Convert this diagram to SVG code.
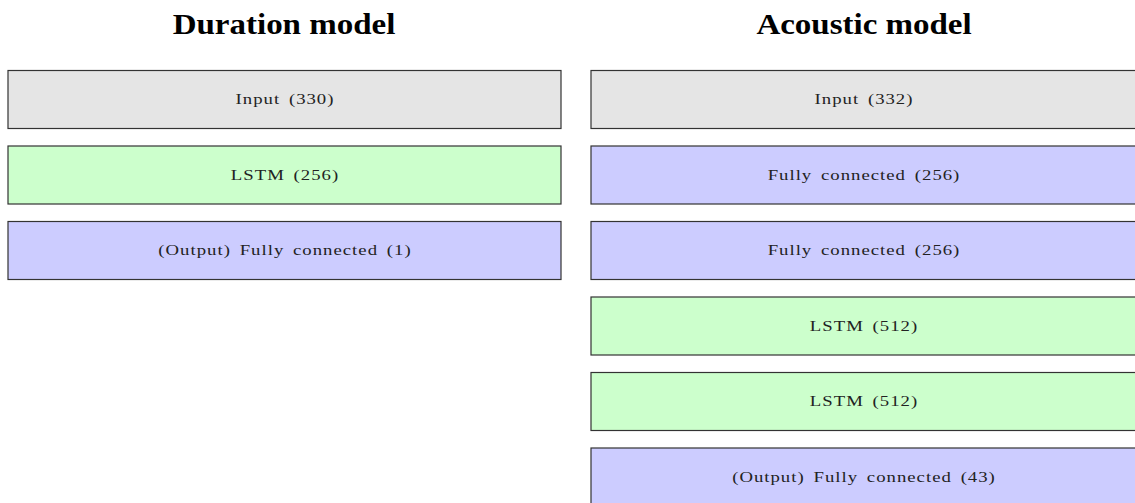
<svg xmlns="http://www.w3.org/2000/svg" width="1135" height="503" viewBox="0 0 1135 503">
  <style>
    .title { font-family: "Liberation Serif", "DejaVu Serif", serif; font-weight: bold; font-size: 30px; fill: #000; text-anchor: middle; }
    .layer { stroke: #333; stroke-width: 1.2; }
    .lbl { font-family: "Liberation Serif", "DejaVu Serif", serif; font-size: 15px; letter-spacing: 0.8px; word-spacing: 2.5px; fill: #222; text-anchor: middle; }
    .input { fill: #e5e5e5; }
    .lstm { fill: #ccffcc; }
    .fc { fill: #ccccff; }
  </style>
  <rect width="1135" height="503" fill="#fff"/>

  <!-- headings, widened to a roman-extended look -->
  <text class="title" transform="translate(284 33.5) scale(1.1 1)">Duration model</text>
  <text class="title" transform="translate(864 33.5) scale(1.1 1)">Acoustic model</text>

  <!-- Duration model stack -->
  <g id="dur-input">
    <rect class="layer input" x="8" y="70.5" width="553" height="58"/>
    <text class="lbl" transform="translate(285 104) scale(1.25 1)">Input (330)</text>
  </g>
  <g id="dur-lstm">
    <rect class="layer lstm" x="8" y="146" width="553" height="58"/>
    <text class="lbl" transform="translate(285 179.5) scale(1.25 1)">LSTM (256)</text>
  </g>
  <g id="dur-output">
    <rect class="layer fc" x="8" y="221.5" width="553" height="58"/>
    <text class="lbl" transform="translate(285 255) scale(1.25 1)">(Output) Fully connected (1)</text>
  </g>

  <!-- Acoustic model stack -->
  <g id="ac-input">
    <rect class="layer input" x="591" y="70.5" width="553" height="58"/>
    <text class="lbl" transform="translate(864 104) scale(1.25 1)">Input (332)</text>
  </g>
  <g id="ac-fc1">
    <rect class="layer fc" x="591" y="146" width="553" height="58"/>
    <text class="lbl" transform="translate(864 179.5) scale(1.25 1)">Fully connected (256)</text>
  </g>
  <g id="ac-fc2">
    <rect class="layer fc" x="591" y="221.5" width="553" height="58"/>
    <text class="lbl" transform="translate(864 255) scale(1.25 1)">Fully connected (256)</text>
  </g>
  <g id="ac-lstm1">
    <rect class="layer lstm" x="591" y="297" width="553" height="58"/>
    <text class="lbl" transform="translate(864 330.5) scale(1.25 1)">LSTM (512)</text>
  </g>
  <g id="ac-lstm2">
    <rect class="layer lstm" x="591" y="372.5" width="553" height="58"/>
    <text class="lbl" transform="translate(864 406) scale(1.25 1)">LSTM (512)</text>
  </g>
  <g id="ac-output">
    <rect class="layer fc" x="591" y="448" width="553" height="58"/>
    <text class="lbl" transform="translate(864 481.5) scale(1.25 1)">(Output) Fully connected (43)</text>
  </g>

  <g id="connectors"/>
</svg>
